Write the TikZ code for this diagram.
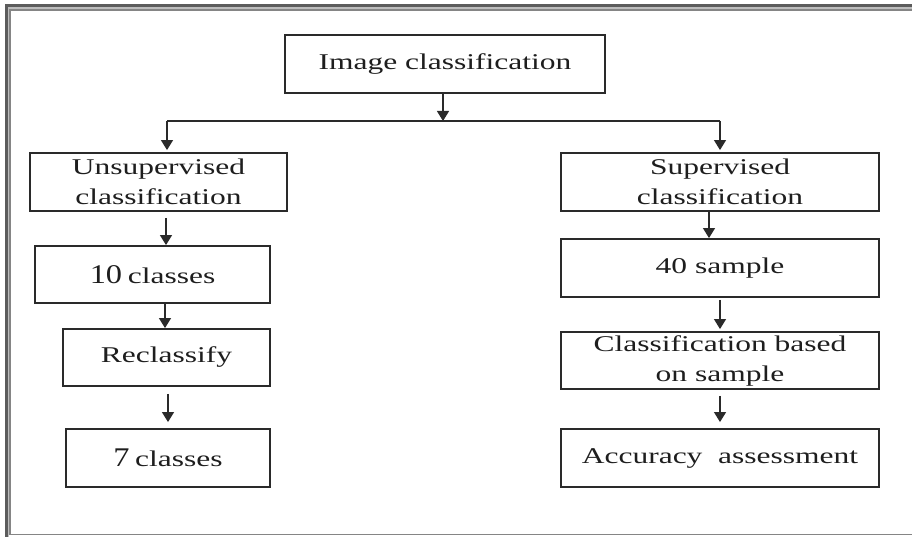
\documentclass[tikz,border=0pt]{standalone}
\usepackage{fontspec}
\setmainfont{Liberation Serif}
\usepackage{graphicx}
\usetikzlibrary{arrows.meta,calc}
\definecolor{boxc}{HTML}{2A2A2A}
\definecolor{txt}{HTML}{1E1E1E}
\definecolor{arrc}{HTML}{2A2A2A}
\definecolor{frdark}{HTML}{5C5C5C}
\definecolor{frlight}{HTML}{BDBDBD}
\definecolor{frmid}{HTML}{858585}
\newcommand{\sx}[1]{\scalebox{1.4}[1]{#1}}
\newcommand{\nm}[1]{{\fontsize{27}{27}\selectfont\scalebox{1.2}[1]{#1}}}
\begin{document}
\begin{tikzpicture}[x=1pt,y=-1pt,
  box/.style={draw=boxc, line width=1.9pt, inner sep=0pt, align=center,
    text=txt, font=\fontsize{22.5}{30}\selectfont},
  arr/.style={draw=arrc, line width=1.2pt, -{Triangle[width=12pt,length=10pt]}},
  plain/.style={draw=arrc, line width=1.2pt}]
\useasboundingbox (0,0) rectangle (912,537);
\fill[white] (0,0) rectangle (912,537);
% frame
\fill[frdark] (5,4) rectangle (912,7.5);
\fill[frdark] (5,4) rectangle (8,537);
\fill[frlight] (8,7.5) rectangle (912,9);
\fill[frlight] (8,7.5) rectangle (9.2,537);
\draw[frmid, line width=1.6pt] (912,9.9) -- (10,9.9) -- (10,534.3) -- (912,534.3);
% nodes
\node[box, minimum width=320, minimum height=58] (top) at (445,64) {\sx{Image classification}};
\node[box, minimum width=257, minimum height=58] (uns) at (158.5,182) {\sx{Unsupervised}\\\sx{classification}};
\node[box, minimum width=235, minimum height=57] (c10) at (152.5,274.5) {\nm{10} \sx{classes}};
\node[box, minimum width=207, minimum height=57] (recl) at (166.5,357.5) {\sx{Reclassify}};
\node[box, minimum width=204, minimum height=58] (c7) at (168,458) {\nm{7} \sx{classes}};
\node[box, minimum width=318, minimum height=58] (sup) at (720,182) {\sx{Supervised}\\\sx{classification}};
\node[box, minimum width=318, minimum height=58] (s40) at (720,268) {\sx{40 sample}};
\node[box, minimum width=318, minimum height=57] (cbs) at (720,360.5) {\sx{Classification based}\\\sx{on sample}};
\node[box, minimum width=318, minimum height=58] (acc) at (720,458) {\sx{Accuracy\ \ assessment}};
% connector helpers
\coordinate (jn) at (443,121);
\coordinate (jl) at (167,121);
\coordinate (jr) at (720,121);
\coordinate (xa) at (166,0);
\coordinate (xb) at (165,0);
\coordinate (xc) at (168,0);
\coordinate (xd) at (709,0);
\coordinate (xe) at (720,0);
% connectors
\draw[arr] (top.south -| jn) -- (jn);
\draw[plain] (jl) -- (jr);
\draw[arr] (jl) -- ($(uns.north -| jl)+(0,-2)$);
\draw[arr] (jr) -- ($(sup.north -| jr)+(0,-2)$);
\draw[arr] ($(uns.south -| xa)+(0,6)$) -- (c10.north -| xa);
\draw[arr] (c10.south -| xb) -- (recl.north -| xb);
\draw[arr] ($(recl.south -| xc)+(0,7)$) -- ($(c7.north -| xc)+(0,-6)$);
\draw[arr] (sup.south -| xd) -- (s40.north -| xd);
\draw[arr] ($(s40.south -| xe)+(0,2)$) -- ($(cbs.north -| xe)+(0,-2)$);
\draw[arr] ($(cbs.south -| xe)+(0,6)$) -- ($(acc.north -| xe)+(0,-6)$);
\end{tikzpicture}
\end{document}
